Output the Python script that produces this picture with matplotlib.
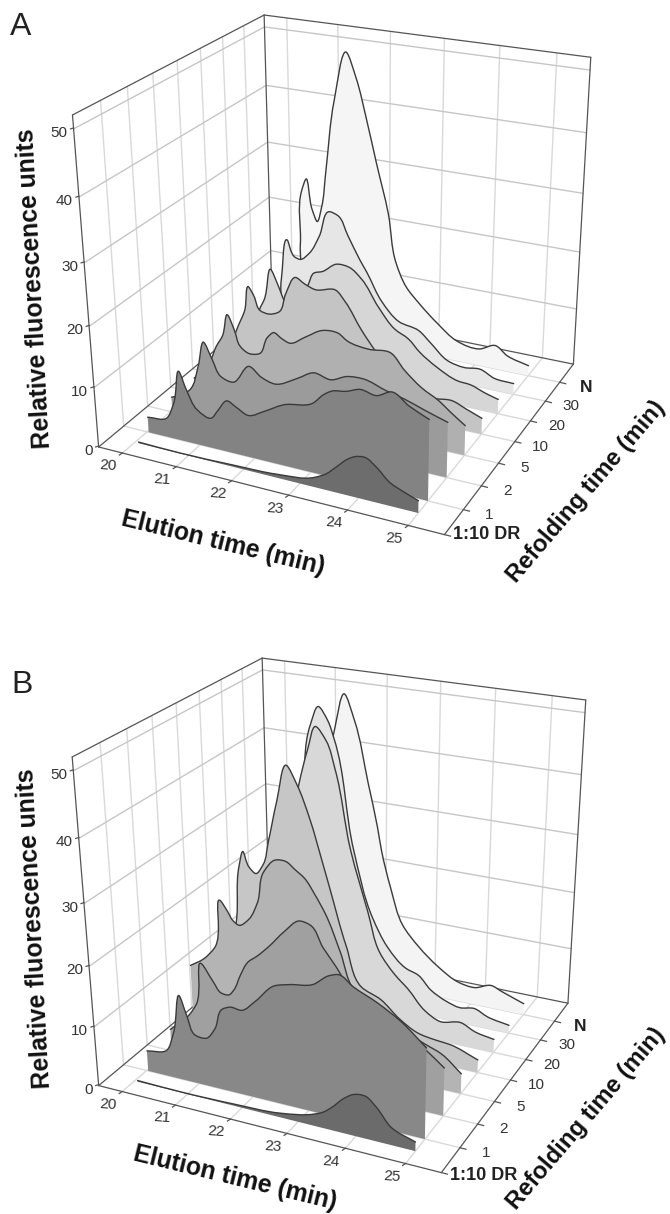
import numpy as np
import matplotlib
matplotlib.use("Agg")
import matplotlib.pyplot as plt
from matplotlib.path import Path
from matplotlib.patches import PathPatch

plt.rcParams['font.family'] = ['Liberation Sans', 'DejaVu Sans']

# axis ticks
elution_ticks = [20, 21, 22, 23, 24, 25]
fluor_ticks = [0, 10, 20, 30, 40, 50]
refold_labels = ['1:10 DR', '1', '2', '5', '10', '20', '30', 'N']
refold_ticks = [0, 1, 2, 3, 4, 5, 6, 7]
slice_depth = [0.5, 1, 2, 3, 4, 5, 6, 7]

# panel A, one trace per refolding time
a_t_dr = [20.07, 20.87, 21.82, 22.61, 23.25, 23.46, 23.63, 23.82, 23.94, 24.11, 24.3, 24.53, 24.77, 25.0]
a_w_dr = [0.2, 0.1, 0.3, 0.6, 1.6, 2.7, 4.2, 5.9, 6.6, 6.9, 5.8, 3.8, 2.8, 2.0]
a_t_1 = [20.03, 20.39, 20.54, 20.67, 20.8, 20.98, 21.24, 21.36, 21.53, 21.7, 21.92, 22.2, 22.54, 23.06, 23.25, 23.38, 23.63, 23.86, 24.14, 24.38, 24.67, 25.0]
a_w_1 = [2.6, 3.2, 6.0, 11.7, 8.8, 5.9, 5.1, 6.6, 8.6, 7.9, 7.0, 8.3, 10.1, 11.5, 13.3, 14.1, 14.6, 15.4, 15.0, 16.1, 14.5, 13.1]
a_t_2 = [20.03, 20.25, 20.39, 20.58, 20.7, 20.85, 21.0, 21.23, 21.53, 21.76, 22.0, 22.41, 22.69, 23.01, 23.28, 23.57, 23.96, 24.27, 24.62, 25.0]
a_w_2 = [2.6, 3.5, 4.6, 9.1, 13.4, 10.8, 8.2, 7.7, 11.0, 9.6, 9.0, 10.8, 12.3, 11.8, 12.9, 13.1, 12.0, 11.3, 10.2, 9.1]
a_t_5 = [20.03, 20.2, 20.35, 20.5, 20.62, 20.73, 20.86, 20.95, 21.13, 21.32, 21.48, 21.59, 21.74, 21.89, 22.18, 22.49, 22.77, 22.94, 23.31, 23.69, 23.94, 24.24, 24.55, 24.73, 25.0]
a_w_5 = [2.6, 4.0, 6.0, 9.2, 11.1, 15.0, 12.5, 10.1, 9.1, 9.5, 12.6, 13.6, 12.9, 12.4, 14.0, 15.7, 15.8, 14.8, 14.2, 14.4, 12.0, 9.7, 8.1, 6.8, 5.0]
a_t_10 = [20.03, 20.2, 20.35, 20.5, 20.64, 20.73, 20.83, 20.94, 21.11, 21.3, 21.44, 21.63, 21.8, 21.99, 22.37, 22.54, 22.84, 23.15, 23.5, 23.87, 24.17, 24.46, 24.72, 25.0]
a_w_10 = [2.7, 4.0, 6.2, 9.5, 12.5, 16.8, 15.4, 13.1, 12.8, 13.5, 16.9, 20.0, 19.2, 18.6, 19.2, 17.6, 13.3, 9.7, 7.0, 4.2, 4.3, 4.6, 3.7, 2.7]
a_t_20 = [20.03, 20.2, 20.38, 20.54, 20.61, 20.76, 20.89, 21.02, 21.22, 21.49, 21.59, 21.76, 22.02, 22.26, 22.49, 22.8, 23.11, 23.36, 23.57, 23.89, 24.27, 24.5, 24.77, 25.0]
a_w_20 = [2.7, 4.0, 6.5, 10.0, 11.3, 17.0, 14.6, 11.8, 9.5, 15.8, 17.8, 18.4, 20.1, 20.0, 18.4, 14.2, 10.9, 9.7, 7.8, 5.8, 4.2, 4.0, 3.1, 2.5]
a_t_30 = [20.03, 20.42, 20.56, 20.7, 20.85, 20.95, 21.13, 21.33, 21.54, 21.69, 21.88, 22.11, 22.24, 22.53, 22.85, 23.23, 23.46, 23.78, 24.09, 24.38, 24.65, 25.0]
a_w_30 = [2.7, 4.0, 11.8, 19.3, 16.5, 16.3, 17.7, 21.0, 25.6, 25.2, 22.1, 18.2, 16.3, 11.6, 8.7, 7.8, 6.0, 3.5, 2.9, 3.2, 2.1, 1.9]
a_t_n = [20.03, 20.39, 20.57, 20.62, 20.7, 20.82, 20.92, 21.01, 21.1, 21.28, 21.52, 21.7, 21.9, 22.08, 22.31, 22.46, 22.66, 22.92, 23.27, 23.65, 24.08, 24.37, 24.6, 25.0]
a_w_n = [2.6, 3.2, 15.6, 25.4, 27.4, 22.3, 20.3, 23.0, 29.2, 41.7, 49.9, 45.9, 39.1, 32.3, 23.9, 15.6, 11.6, 9.0, 6.1, 3.6, 3.0, 4.2, 2.8, 1.8]

# panel B
b_t_dr = [20.06, 20.9, 21.88, 22.68, 23.29, 23.43, 23.59, 23.79, 23.96, 24.16, 24.34, 24.6, 25.0]
b_w_dr = [0.2, 0.1, 0.3, 0.7, 2.0, 2.6, 3.8, 5.7, 6.8, 7.0, 5.7, 2.9, 1.5]
b_t_1 = [20.03, 20.41, 20.56, 20.71, 20.83, 20.98, 21.19, 21.34, 21.5, 21.64, 21.85, 22.1, 22.43, 22.71, 23.11, 23.38, 23.54, 23.79, 24.19, 24.59, 25.0]
b_w_1 = [3.5, 4.4, 7.6, 14.3, 11.3, 8.2, 8.2, 10.0, 13.7, 14.3, 14.2, 16.2, 19.3, 20.1, 20.9, 22.8, 23.3, 21.9, 20.2, 18.0, 14.8]
b_t_2 = [20.03, 20.42, 20.56, 20.69, 20.91, 21.05, 21.2, 21.29, 21.42, 21.57, 21.74, 21.96, 22.24, 22.51, 22.7, 22.92, 23.14, 23.32, 23.72, 24.25, 24.68, 25.0]
b_w_2 = [3.8, 7.2, 9.2, 16.5, 13.8, 12.2, 12.2, 13.2, 15.9, 18.4, 19.7, 21.7, 24.6, 26.8, 26.5, 23.3, 20.7, 18.3, 15.6, 12.9, 10.3, 8.0]
b_t_5 = [20.03, 20.29, 20.52, 20.67, 20.8, 20.89, 21.01, 21.19, 21.36, 21.5, 21.71, 21.9, 22.06, 22.24, 22.41, 22.6, 22.86, 23.1, 23.51, 23.99, 24.35, 24.65, 25.0]
b_w_5 = [11.8, 13.4, 15.8, 24.0, 22.4, 21.1, 20.5, 21.8, 24.8, 30.2, 32.4, 32.5, 31.5, 30.3, 28.1, 25.2, 19.4, 13.6, 11.3, 8.5, 7.1, 6.0, 3.4]
b_t_10 = [20.03, 20.3, 20.53, 20.62, 20.7, 20.81, 20.94, 21.08, 21.19, 21.37, 21.56, 21.74, 21.97, 22.18, 22.31, 22.61, 22.88, 23.24, 23.59, 23.91, 24.27, 24.5, 25.0]
b_w_10 = [7.8, 8.8, 17.5, 27.0, 29.6, 27.2, 26.3, 28.0, 31.9, 38.9, 44.8, 42.1, 36.8, 30.4, 26.3, 16.9, 10.5, 9.0, 6.3, 4.6, 4.0, 3.8, 2.2]
b_t_20 = [20.03, 20.43, 20.71, 20.96, 21.16, 21.4, 21.57, 21.72, 21.91, 22.07, 22.34, 22.66, 22.88, 23.18, 23.41, 23.74, 24.02, 24.39, 24.66, 25.0]
b_w_20 = [5.0, 6.0, 18.0, 20.0, 28.0, 39.5, 45.2, 49.0, 47.0, 42.6, 30.0, 20.0, 13.4, 9.9, 8.0, 4.7, 3.4, 4.0, 2.9, 2.3]
b_t_30 = [20.03, 20.4, 20.7, 20.95, 21.1, 21.25, 21.4, 21.58, 21.69, 22.05, 22.41, 22.7, 23.05, 23.29, 23.53, 23.84, 24.08, 24.35, 24.6, 25.0]
b_w_30 = [4.0, 5.0, 18.0, 20.0, 35.0, 46.7, 49.8, 47.7, 45.0, 26.8, 15.6, 10.9, 7.8, 7.0, 4.8, 3.3, 2.7, 3.1, 2.1, 1.4]
b_t_n = [20.03, 20.4, 20.7, 20.95, 21.1, 21.34, 21.53, 21.72, 21.98, 22.16, 22.24, 22.42, 22.66, 22.98, 23.37, 23.75, 24.07, 24.38, 24.58, 25.0]
b_w_n = [3.0, 4.0, 18.0, 19.0, 28.0, 44.0, 50.1, 46.0, 35.8, 28.5, 24.5, 18.2, 11.9, 8.5, 5.5, 3.5, 3.1, 4.1, 3.4, 2.0]

traces_a = [(a_t_n, a_w_n), (a_t_30, a_w_30), (a_t_20, a_w_20), (a_t_10, a_w_10),
            (a_t_5, a_w_5), (a_t_2, a_w_2), (a_t_1, a_w_1), (a_t_dr, a_w_dr)]
traces_b = [(b_t_n, b_w_n), (b_t_30, b_w_30), (b_t_20, b_w_20), (b_t_10, b_w_10),
            (b_t_5, b_w_5), (b_t_2, b_w_2), (b_t_1, b_w_1), (b_t_dr, b_w_dr)]

# back to front
greys_a = ['#f5f5f5', '#e6e6e6', '#d6d6d6', '#c4c4c4', '#b0b0b0', '#9b9b9b', '#838383', '#6d6d6d']
greys_b = ['#f4f4f4', '#e4e4e4', '#d8d8d8', '#c6c6c6', '#b4b4b4', '#a0a0a0', '#888888', '#6b6b6b']

T0, T1 = 19.55, 25.58
V0, V1 = 0, 8
W_TOP = 52

# where the box of each panel sits on the page: (t, v, w, x, y)
view_a = [(T0, 0, 0, 98, 445), (T1, 0, 0, 443, 533), (T1, 8, 0, 572, 364), (T0, 8, 0, 270, 303),
          (T0, 0, 52, 73, 115), (T1, 8, 52, 591, 57), (T0, 8, 52, 265, 15),
          (T0, 0, 50, 73, 130), (T0, 0, 40, 78, 198), (T0, 0, 30, 83, 263), (T0, 0, 20, 88, 327), (T0, 0, 10, 93, 387),
          (T0, 8, 50, 266, 27), (T0, 8, 40, 267, 85), (T0, 8, 30, 268, 142), (T0, 8, 20, 269, 197),
          (T1, 8, 50, 591, 69), (T1, 8, 40, 586, 133), (T1, 8, 30, 581, 193), (T1, 8, 20, 577, 252),
          (20, 0, 0, 123, 453), (21, 0, 0, 178, 466), (22, 0, 0, 233, 481), (23, 0, 0, 290, 496), (24, 0, 0, 348, 511), (25, 0, 0, 408, 527),
          (T1, 1, 0, 463, 508), (T1, 2, 0, 482, 485), (T1, 3, 0, 498, 463), (T1, 4, 0, 515, 442),
          (T1, 5, 0, 532, 422), (T1, 6, 0, 547, 402), (T1, 7, 0, 562, 383)]
view_b = [(T0, 0, 0, 98, 1084), (T1, 0, 0, 439, 1170), (T1, 8, 0, 567, 1004), (T0, 8, 0, 269, 941),
          (T0, 0, 52, 73, 757), (T1, 8, 52, 587, 699), (T0, 8, 52, 263, 657),
          (T0, 0, 50, 73, 772), (T0, 0, 40, 78, 839), (T0, 0, 30, 83, 903), (T0, 0, 20, 88, 967), (T0, 0, 10, 93, 1027),
          (T0, 8, 50, 263, 671), (T0, 8, 40, 265, 728), (T0, 8, 30, 266, 784), (T0, 8, 20, 267, 838),
          (T1, 8, 50, 585, 712), (T1, 8, 40, 581, 775), (T1, 8, 30, 576, 834), (T1, 8, 20, 572, 893),
          (20, 0, 0, 123, 1092), (21, 0, 0, 177, 1105), (22, 0, 0, 231, 1120), (23, 0, 0, 288, 1134), (24, 0, 0, 345, 1149), (25, 0, 0, 406, 1164),
          (T1, 1, 0, 460, 1147), (T1, 2, 0, 478, 1123), (T1, 3, 0, 495, 1102), (T1, 4, 0, 512, 1080),
          (T1, 5, 0, 527, 1060), (T1, 6, 0, 542, 1040), (T1, 7, 0, 555, 1023)]


def fit_view(view):
    # least squares perspective camera, 11 unknowns
    rows, rhs = [], []
    for t, v, w, x, y in view:
        rows.append([t, v, w, 1, 0, 0, 0, 0, -x * t, -x * v, -x * w])
        rhs.append(x)
        rows.append([0, 0, 0, 0, t, v, w, 1, -y * t, -y * v, -y * w])
        rhs.append(y)
    p = np.linalg.lstsq(np.array(rows, float), np.array(rhs, float), rcond=None)[0]
    return np.append(p, 1.0).reshape(3, 4)


def project(cam, t, v, w):
    t, v, w = np.broadcast_arrays(np.asarray(t, float), np.asarray(v, float), np.asarray(w, float))
    pts = np.stack([t, v, w, np.ones_like(t)], axis=-1) @ cam.T
    return pts[..., :2] / pts[..., 2:]


def smooth_path(pts):
    # bezier through the read points, tangents weighted by chord length
    d = np.diff(pts, axis=0)
    h = np.maximum(np.linalg.norm(d, axis=1, keepdims=True), 1e-6)
    s = d / h
    tang = np.zeros_like(pts)
    tang[0] = s[0]
    tang[-1] = s[-1]
    tang[1:-1] = (s[:-1] * h[1:] + s[1:] * h[:-1]) / (h[:-1] + h[1:])
    verts = [pts[0]]
    codes = [Path.MOVETO]
    for i in range(len(pts) - 1):
        verts += [pts[i] + tang[i] * h[i] / 3, pts[i + 1] - tang[i + 1] * h[i] / 3, pts[i + 1]]
        codes += [Path.CURVE4] * 3
    return verts, codes


def seg(ax, cam, a, b, color, lw, z=1):
    pts = project(cam, [a[0], b[0]], [a[1], b[1]], [a[2], b[2]])
    ax.plot(pts[:, 0], pts[:, 1], color=color, lw=lw, zorder=z, solid_capstyle='round')


def draw_panel(ax, view, traces, greys, xoff, doff):
    cam = fit_view(view)
    grid_v = '#d9d9d9'
    grid_h = '#c6c6c6'
    frame = '#555555'

    for t in elution_ticks:
        seg(ax, cam, (t, V0, 0), (t, V1, 0), grid_v, 1.0)
        seg(ax, cam, (t, V1, 0), (t, V1, W_TOP), grid_v, 1.0)
    for v in range(1, 8):
        seg(ax, cam, (T0, v, 0), (T1, v, 0), grid_v, 1.0)
        seg(ax, cam, (T0, v, 0), (T0, v, W_TOP), grid_v, 1.0)
    for w in fluor_ticks[1:]:
        seg(ax, cam, (T0, V0, w), (T0, V1, w), grid_h, 1.0)
        seg(ax, cam, (T0, V1, w), (T1, V1, w), grid_h, 1.0)

    # box
    seg(ax, cam, (T0, V0, 0), (T0, V0, W_TOP), frame, 0.9, 2)
    seg(ax, cam, (T0, V1, 0), (T0, V1, W_TOP), frame, 0.9, 2)
    seg(ax, cam, (T1, V1, 0), (T1, V1, W_TOP), frame, 0.9, 2)
    seg(ax, cam, (T0, V0, W_TOP), (T0, V1, W_TOP), frame, 0.9, 2)
    seg(ax, cam, (T0, V1, W_TOP), (T1, V1, W_TOP), frame, 0.9, 2)
    seg(ax, cam, (T0, V0, 0), (T0, V1, 0), frame, 0.9, 2)
    seg(ax, cam, (T0, V1, 0), (T1, V1, 0), frame, 0.9, 2)
    seg(ax, cam, (T0, V0, 0), (T1, V0, 0), frame, 0.9, 2)
    seg(ax, cam, (T1, V0, 0), (T1, V1, 0), frame, 0.9, 2)

    # ticks and tick labels
    for w in fluor_ticks:
        p = project(cam, T0, V0, w)
        ax.plot([p[0] - 3, p[0]], [p[1], p[1] - 1], color=frame, lw=0.9, zorder=2)
        ax.text(p[0] - 6, p[1] + 4, str(w), ha='right', va='center', fontsize=11, color='#333333')
    for t in elution_ticks:
        p = project(cam, t, V0, 0)
        ax.plot([p[0] - 3, p[0]], [p[1] + 2, p[1]], color=frame, lw=0.9, zorder=2)
        ax.text(p[0] + xoff[0], p[1] + xoff[1], str(t), ha='center', va='center', fontsize=11,
                rotation=-4, color='#333333')
    for v, lab in zip(refold_ticks, refold_labels):
        p = project(cam, T1, v, 0)
        ax.plot([p[0], p[0] + 6], [p[1], p[1] + 1.5], color=frame, lw=0.9, zorder=2)
        if lab == '1:10 DR':
            ax.text(p[0] + 9, p[1] + doff, lab, ha='left', va='center', fontsize=13, weight='bold', color='#222222')
        elif lab == 'N':
            ax.text(p[0] + 26, p[1] + 5, lab, ha='center', va='center', fontsize=12.5, weight='bold', color='#222222')
        else:
            ax.text(p[0] + 26, p[1] + 5, lab, ha='center', va='center', fontsize=11, color='#333333')

    # slices, furthest first
    for (ts, ws), v, grey, n in zip(traces, slice_depth[::-1], greys, range(len(traces))):
        top = project(cam, ts, v, ws)
        base = project(cam, [ts[-1], ts[0]], v, 0)
        verts, codes = smooth_path(top)
        fill_verts = verts + [base[0], base[1], top[0]]
        fill_codes = codes + [Path.LINETO, Path.LINETO, Path.CLOSEPOLY]
        ax.add_patch(PathPatch(Path(fill_verts, fill_codes), facecolor=grey, edgecolor='none', zorder=3 + n))
        ax.add_patch(PathPatch(Path(verts, codes), facecolor='none', edgecolor='#3a3a3a',
                               lw=1.0, zorder=3 + n, capstyle='round'))


fig = plt.figure(figsize=(6.7, 12.14), dpi=100)
ax = fig.add_axes([0, 0, 1, 1])
ax.set_xlim(0, 670)
ax.set_ylim(1214, 0)
ax.axis('off')

draw_panel(ax, view_a, traces_a, greys_a, (-14, 13), 0)
draw_panel(ax, view_b, traces_b, greys_b, (-14, 13), 3)

ax.text(21, 27, 'A', ha='center', va='center', fontsize=23, color='#222222')
ax.text(22, 685, 'B', ha='center', va='center', fontsize=23, color='#222222')

lab = dict(ha='center', va='center', fontsize=17.8, weight='bold', color='#111111', rotation_mode='anchor')
ax.text(35, 288, 'Relative fluorescence units', rotation=93, **lab)
ax.text(35, 928, 'Relative fluorescence units', rotation=93, **lab)
ax.text(223, 543, 'Elution time (min)', rotation=-13.7, **lab)
ax.text(235, 1178, 'Elution time (min)', rotation=-13.7, **lab)
lab['fontsize'] = 17.2
ax.text(586, 492, 'Refolding time (min)', rotation=49.6, **lab)
ax.text(586, 1119, 'Refolding time (min)', rotation=49.6, **lab)

fig.savefig('out.png', dpi=100)
